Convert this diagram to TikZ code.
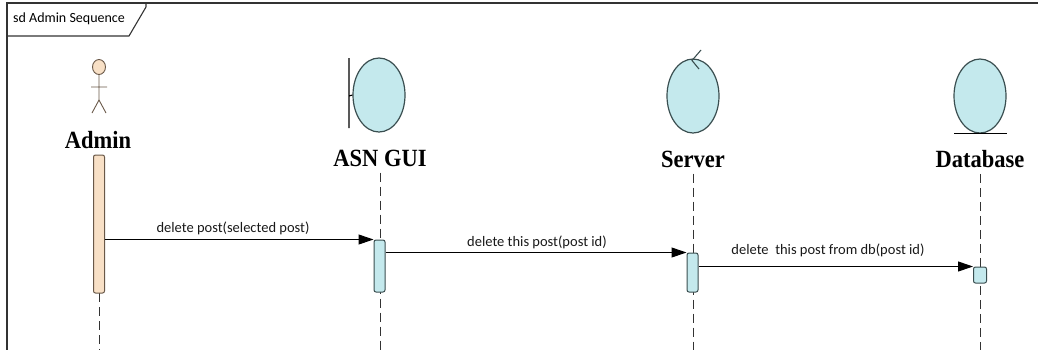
\documentclass[tikz,border=0pt]{standalone}
\usepackage{fontspec}
\setmainfont{Carlito}
\newfontfamily\namefont{Liberation Serif}
\usepackage{xcolor}
\definecolor{actorfill}{RGB}{248,224,198}
\definecolor{actorline}{RGB}{105,88,72}
\definecolor{entfill}{RGB}{196,233,237}
\definecolor{entline}{RGB}{58,78,80}
\usetikzlibrary{positioning,calc,shapes.geometric,arrows.meta}

\begin{document}
\begin{tikzpicture}[x=1pt, y=-1pt,
		ent/.style={draw=entline, fill=entfill, line width=1.2pt, ellipse, minimum width=52pt, minimum height=74pt, inner sep=0pt},
		lname/.style={font=\namefont\bfseries\fontsize{22.5}{24}\selectfont, inner sep=0pt, yscale=1.1},
		life/.style={draw=black!80, dash pattern=on 9pt off 5pt, line width=0.8pt},
		bar/.style={draw=entline, fill=entfill, rounded corners=2pt, line width=1pt, minimum width=11pt, inner sep=0pt},
		msg/.style={draw=black, line width=1pt, -{Triangle[length=15pt,width=10pt]}},
		mlabel/.style={font=\fontsize{14.5}{16}\selectfont, inner sep=0pt, text=black!90}]
				\useasboundingbox (0,0) rectangle (1038,349);
				\draw[line width=1.3pt, black!80] (7,352) -- (7,3) -- (1040,3);
				\draw[line width=1.1pt, black!80] (7,36) -- (129,36) -- (146,7) -- (146,3);
				\node[font=\fontsize{14}{16}\selectfont, inner sep=0pt] (title) at (69,19) {sd Admin Sequence};
				\node[lname] (adminname) at (98,140) {Admin};
				\node[lname] (guiname) at (380,158) {ASN GUI};
				\node[lname] (servername) at (693,159) {Server};
				\node[lname] (dbname) at (980,159) {Database};
				\draw[actorline, fill=actorfill, line width=0.9pt] (99,67) ellipse [x radius=6.5, y radius=7.5];
				\draw[actorline, line width=0.9pt] (99,74.5) -- (99,100) (91,87) -- (107,87) (92,113) -- (99,100) -- (106,113);
				\node[ent] (gui) at (379,95) {};
				\draw[black, line width=1.1pt] (349,58) -- (349,128) (349,96) -- (gui.west);
				\node[ent] (server) at (693,96) {};
				\draw[entline, line width=1.1pt] (701,50) -- (692,60.5) -- (699,69);
				\node[ent] (db) at (980,96) {};
				\draw[black, line width=1.1pt] (954,133.5) -- (1007,133.5);
				\draw[life] (guiname.south) ++(0,6) -- ++(0,200);
				\draw[life] (servername.south) ++(0,6) -- ++(0,200);
				\draw[life] (dbname.south) ++(0,6) -- ++(0,200);
				\draw[life] (99,293) -- (99,352);
				\node[bar, draw=actorline, fill=actorfill, minimum height=138pt] (adminbar) at (99,224) {};
				\node[bar, minimum height=52pt] (guibar) at (379.5,266) {};
				\node[bar, minimum height=39pt] (serverbar) at (692.5,272.5) {};
				\node[bar, minimum height=16pt, minimum width=13pt] (dbbar) at (980,275) {};
				\draw[msg] (adminbar.east |- guibar.north) -- (guibar.north west);
				\draw[msg] (guibar.east |- serverbar.north) -- (serverbar.north west);
				\draw[msg] (serverbar.east |- dbbar.north) -- (dbbar.north west);
				\node[mlabel] (m1) at (233,228) {delete post(selected post)};
				\node[mlabel] (m2) at (537,242) {delete this post(post id)};
				\node[mlabel] (m3) at (828,250) {delete\ \ this post from db(post id)};
			\end{tikzpicture}
\end{document}
